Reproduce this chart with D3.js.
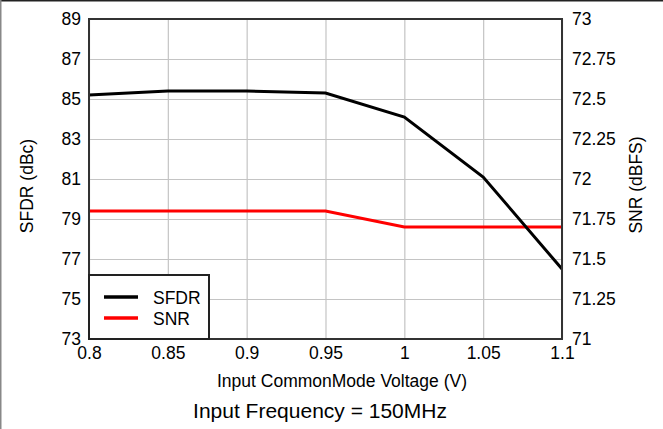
<!DOCTYPE html>
<html>
<head>
<meta charset="utf-8">
<script src="https://cdn.jsdelivr.net/npm/d3@7"></script>
<style>
  body { margin: 0; background: #fff; }
  text { font-family: "Liberation Sans", Arial, sans-serif; fill: #000; }
</style>
</head>
<body>
<svg id="chart" width="663" height="429"></svg>
<script>
// Data
const voltages = [0.8, 0.85, 0.9, 0.95, 1.0, 1.05, 1.1];
const sfdr = [85.2, 85.4, 85.4, 85.3, 84.1, 81.1, 76.5];
const snr = [71.8, 71.8, 71.8, 71.8, 71.7, 71.7, 71.7];
const xTicks = [0.8, 0.85, 0.9, 0.95, 1.0, 1.05, 1.1];
const leftTicks = [73, 75, 77, 79, 81, 83, 85, 87, 89];
const rightTicks = [71, 71.25, 71.5, 71.75, 72, 72.25, 72.5, 72.75, 73];
const seriesNames = ['SFDR', 'SNR'];
const seriesColors = ['#000000', '#ff0000'];

const margin = { left: 89, top: 19, right: 101, bottom: 90 };
const width = 663 - margin.left - margin.right;
const height = 429 - margin.top - margin.bottom;
const fs = 17.5;

const svg = d3.select('#chart');

// outer frame lines
svg.append('line').attr('x1', 0).attr('x2', 663).attr('y1', 0.75).attr('y2', 0.75)
  .attr('stroke', '#222').attr('stroke-width', 1.5);
svg.append('line').attr('x1', 0.75).attr('x2', 0.75).attr('y1', 0).attr('y2', 429)
  .attr('stroke', '#888').attr('stroke-width', 1.5);

const g = svg.append('g').attr('transform', `translate(${margin.left},${margin.top})`);

// Scales
const xScale = d3.scaleLinear().domain([0.8, 1.1]).range([0, width]);
const yLeft = d3.scaleLinear().domain([73, 89]).range([height, 0]);
const yRight = d3.scaleLinear().domain([71, 73]).range([height, 0]);

// Grid
g.append('g')
  .attr('transform', `translate(0,${height})`)
  .call(d3.axisBottom(xScale).tickValues(xTicks).tickSize(-height).tickFormat(''))
  .call(a => a.select('.domain').remove())
  .selectAll('line').attr('stroke', '#c4c4c4').attr('stroke-width', 1.2);

g.append('g')
  .call(d3.axisLeft(yLeft).tickValues(leftTicks).tickSize(-width).tickFormat(''))
  .call(a => a.select('.domain').remove())
  .selectAll('line').attr('stroke', '#c4c4c4').attr('stroke-width', 1.2);

// Axes labels
const xAxis = g.append('g')
  .attr('transform', `translate(0,${height})`)
  .call(d3.axisBottom(xScale).tickValues(xTicks).tickSize(0).tickPadding(8)
    .tickFormat(d => String(+d.toFixed(2))));
xAxis.select('.domain').remove();
xAxis.selectAll('text').attr('font-size', fs).attr('font-family', '"Liberation Sans", Arial, sans-serif');

const lAxis = g.append('g')
  .call(d3.axisLeft(yLeft).tickValues(leftTicks).tickSize(0).tickPadding(8));
lAxis.select('.domain').remove();
lAxis.selectAll('text').attr('font-size', fs).attr('font-family', '"Liberation Sans", Arial, sans-serif');

const rAxis = g.append('g')
  .attr('transform', `translate(${width},0)`)
  .call(d3.axisRight(yRight).tickValues(rightTicks).tickSize(0).tickPadding(10)
    .tickFormat(d => String(d)));
rAxis.select('.domain').remove();
rAxis.selectAll('text').attr('font-size', fs).attr('font-family', '"Liberation Sans", Arial, sans-serif');

// Lines
const lineLeft = d3.line().x((d, i) => xScale(voltages[i])).y(d => yLeft(d));
const lineRight = d3.line().x((d, i) => xScale(voltages[i])).y(d => yRight(d));

g.append('path').datum(snr).attr('d', lineRight)
  .attr('fill', 'none').attr('stroke', seriesColors[1]).attr('stroke-width', 3);
g.append('path').datum(sfdr).attr('d', lineLeft)
  .attr('fill', 'none').attr('stroke', seriesColors[0]).attr('stroke-width', 3);

// Plot border
g.append('rect').attr('width', width).attr('height', height)
  .attr('fill', 'none').attr('stroke', '#333').attr('stroke-width', 2);

// Legend
const legend = g.append('g').attr('transform', `translate(0,${height - 64})`);
legend.append('rect').attr('width', 120).attr('height', 64)
  .attr('fill', '#fff').attr('stroke', '#222').attr('stroke-width', 2);
seriesNames.forEach((name, i) => {
  const ly = 22 + i * 21;
  legend.append('line').attr('x1', 15).attr('x2', 49).attr('y1', ly).attr('y2', ly)
    .attr('stroke', seriesColors[i]).attr('stroke-width', 3.5);
  legend.append('text').attr('x', 64).attr('y', ly + 6.5)
    .attr('font-size', fs).text(name);
});

// Titles
svg.append('text').attr('x', 342).attr('y', 387).attr('text-anchor', 'middle')
  .attr('font-size', fs).text('Input CommonMode Voltage (V)');

svg.append('text').attr('transform', 'translate(33,186) rotate(-90)')
  .attr('text-anchor', 'middle').attr('font-size', fs).text('SFDR (dBc)');

svg.append('text').attr('transform', 'translate(642,185) rotate(-90)')
  .attr('text-anchor', 'middle').attr('font-size', fs).text('SNR (dBFS)');

svg.append('text').attr('x', 320).attr('y', 418).attr('text-anchor', 'middle')
  .attr('font-size', 21).text('Input Frequency = 150MHz');
</script>
</body>
</html>
